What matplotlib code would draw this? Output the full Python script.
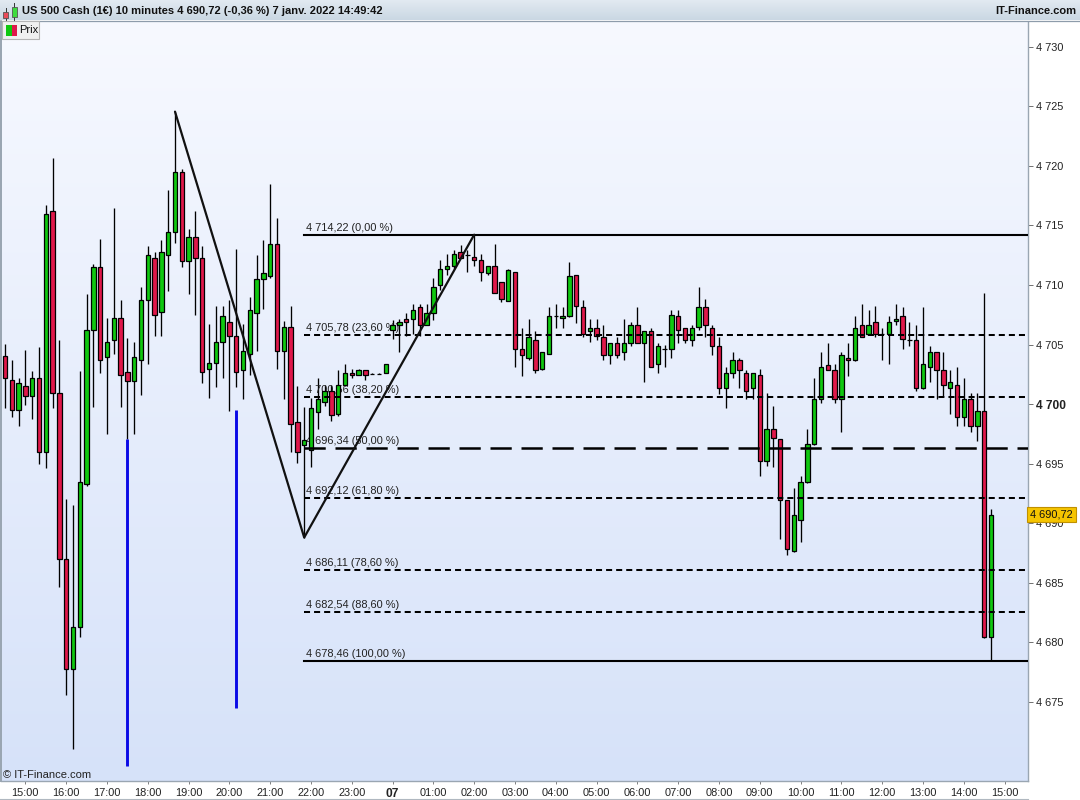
import matplotlib
matplotlib.use("Agg")
import matplotlib.pyplot as plt
import numpy as np
from matplotlib.colors import LinearSegmentedColormap
from matplotlib.patches import Rectangle
from matplotlib.transforms import blended_transform_factory, offset_copy

plt.rcParams['font.family'] = ['Liberation Sans', 'DejaVu Sans']

# ---------------- data (10-minute candles, 6 Jan 14:30 -> 7 Jan 14:40) ----------------
opens = [4704.07, 4702.00, 4699.49, 4701.48, 4700.72, 4702.23, 4695.94, 4716.23, 4700.97, 4686.97,
         4677.75, 4681.27, 4693.26, 4706.25, 4711.53, 4703.99, 4705.42, 4707.26, 4702.73, 4701.98,
         4703.66, 4708.77, 4712.29, 4707.76, 4712.54, 4714.47, 4719.50, 4712.04, 4714.05, 4712.29,
         4702.98, 4703.49, 4705.25, 4706.92, 4705.75, 4702.82, 4704.24, 4707.68, 4710.53, 4710.78,
         4713.46, 4704.49, 4706.51, 4698.53, 4696.56, 4696.14, 4699.36, 4700.16, 4701.12, 4699.13,
         4701.64, 4702.65, 4702.40, 4702.90, 4702.53, 4702.53, 4702.65, 4706.25, 4706.67, 4707.18,
         4707.18, 4708.18, 4706.67, 4707.68, 4710.03, 4711.37, 4711.62, 4712.79, 4712.51, 4712.37,
         4712.12, 4711.03, 4711.62, 4710.28, 4708.68, 4711.12, 4704.66, 4703.91, 4705.42, 4702.98,
         4704.24, 4707.43, 4707.26, 4707.43, 4710.86, 4708.18, 4706.17, 4706.42, 4705.67, 4704.16,
         4705.16, 4704.41, 4705.16, 4706.67, 4705.16, 4706.17, 4703.40, 4704.66, 4704.66, 4707.43,
         4706.42, 4705.42, 4706.51, 4708.18, 4706.42, 4704.91, 4701.39, 4702.65, 4703.66, 4702.65,
         4701.31, 4702.40, 4695.19, 4697.87, 4697.03, 4691.92, 4687.65, 4690.24, 4693.43, 4696.61,
         4700.39, 4703.24, 4702.90, 4700.39, 4703.91, 4703.66, 4706.67, 4705.92, 4706.92, 4705.92,
         4705.92, 4707.01, 4707.43, 4705.42, 4705.42, 4701.39, 4703.15, 4704.41, 4702.90, 4701.39,
         4701.64, 4698.88, 4700.39, 4698.12, 4699.38, 4680.44]
highs = [4705.02, 4703.74, 4702.23, 4704.52, 4702.76, 4704.77, 4716.73, 4720.67, 4705.36, 4692.00,
         4691.53, 4702.76, 4709.27, 4711.79, 4713.82, 4707.26, 4716.48, 4708.77, 4705.52, 4705.25,
         4709.80, 4713.29, 4712.79, 4713.80, 4717.99, 4724.55, 4719.75, 4714.72, 4716.23, 4713.29,
         4706.70, 4708.21, 4708.21, 4708.71, 4712.98, 4706.76, 4708.96, 4712.54, 4713.74, 4718.49,
         4715.64, 4707.01, 4708.27, 4701.48, 4699.77, 4700.47, 4702.15, 4701.64, 4701.64, 4702.84,
         4703.40, 4702.93, 4702.93, 4702.90, 4702.60, 4702.60, 4703.40, 4707.03, 4707.18, 4707.68,
         4708.43, 4708.43, 4708.43, 4710.61, 4712.12, 4712.62, 4712.90, 4713.32, 4712.90, 4714.22,
         4712.62, 4711.62, 4713.40, 4710.28, 4711.37, 4711.12, 4706.42, 4707.18, 4706.17, 4704.41,
         4708.18, 4708.43, 4708.18, 4711.90, 4710.86, 4708.77, 4707.18, 4707.18, 4706.67, 4705.16,
         4705.67, 4707.18, 4706.92, 4708.18, 4706.17, 4706.42, 4705.16, 4705.00, 4707.93, 4707.93,
         4706.42, 4706.67, 4709.86, 4708.85, 4706.67, 4705.67, 4703.15, 4704.41, 4703.91, 4702.90,
         4702.65, 4702.98, 4700.89, 4699.88, 4697.03, 4691.92, 4692.93, 4693.93, 4697.87, 4702.15,
         4704.41, 4705.16, 4703.40, 4704.41, 4705.16, 4707.43, 4708.43, 4707.93, 4708.27, 4706.42,
         4707.43, 4708.43, 4708.18, 4706.92, 4706.67, 4708.18, 4704.91, 4704.41, 4704.41, 4702.90,
         4703.15, 4702.15, 4700.89, 4700.89, 4709.35, 4691.17]
lows = [4699.68, 4698.93, 4698.17, 4699.91, 4698.71, 4694.94, 4694.65, 4699.68, 4684.68, 4675.54,
        4671.05, 4680.49, 4693.12, 4699.77, 4702.62, 4697.50, 4704.24, 4699.77, 4697.03, 4697.50,
        4700.77, 4703.37, 4705.72, 4705.72, 4709.52, 4713.55, 4711.50, 4709.24, 4707.48, 4701.73,
        4700.52, 4701.44, 4702.20, 4699.46, 4701.44, 4700.44, 4702.48, 4704.46, 4707.98, 4710.60,
        4702.98, 4700.44, 4695.99, 4695.02, 4688.80, 4694.69, 4697.87, 4699.82, 4698.59, 4699.00,
        4701.50, 4702.15, 4702.40, 4702.00, 4702.50, 4702.50, 4702.65, 4705.44, 4704.41, 4705.75,
        4705.92, 4705.75, 4706.60, 4707.03, 4709.61, 4710.86, 4711.37, 4712.29, 4711.08, 4711.62,
        4710.36, 4710.86, 4709.35, 4708.57, 4708.68, 4703.12, 4702.36, 4703.74, 4702.65, 4702.90,
        4704.24, 4706.42, 4706.42, 4707.30, 4706.84, 4705.67, 4705.25, 4705.42, 4703.66, 4703.40,
        4703.91, 4703.66, 4704.91, 4705.16, 4701.89, 4703.15, 4702.65, 4703.15, 4703.91, 4705.16,
        4705.16, 4704.91, 4706.25, 4705.67, 4704.16, 4700.81, 4699.63, 4702.15, 4701.31, 4700.39,
        4700.39, 4693.93, 4694.77, 4694.69, 4688.65, 4687.31, 4687.60, 4688.40, 4693.40, 4696.60,
        4700.13, 4702.90, 4700.13, 4697.62, 4702.36, 4703.60, 4705.60, 4705.90, 4705.67, 4703.66,
        4703.40, 4706.67, 4704.66, 4704.91, 4701.14, 4701.30, 4701.89, 4700.39, 4700.64, 4699.13,
        4698.12, 4698.12, 4697.62, 4696.87, 4680.40, 4678.46]
closes = [4702.20, 4699.49, 4701.73, 4700.72, 4702.23, 4695.94, 4715.98, 4700.97, 4686.97, 4677.75,
          4681.27, 4693.48, 4706.25, 4711.53, 4703.74, 4705.25, 4707.26, 4702.48, 4701.98, 4703.99,
          4708.77, 4712.54, 4707.51, 4712.79, 4714.47, 4719.50, 4712.04, 4714.05, 4712.29, 4702.73,
          4703.49, 4705.25, 4707.43, 4705.75, 4702.73, 4704.49, 4707.93, 4710.53, 4711.03, 4713.46,
          4704.49, 4706.51, 4698.32, 4695.99, 4696.97, 4699.63, 4700.39, 4701.12, 4699.07, 4701.64,
          4702.65, 4702.45, 4702.82, 4702.40, 4702.53, 4702.53, 4703.40, 4706.67, 4706.92, 4706.92,
          4707.93, 4706.67, 4707.68, 4709.86, 4711.37, 4711.62, 4712.62, 4712.29, 4712.51, 4712.12,
          4711.12, 4711.62, 4709.35, 4708.85, 4711.28, 4704.66, 4704.16, 4705.67, 4702.90, 4704.41,
          4707.43, 4707.43, 4707.43, 4710.78, 4708.27, 4705.92, 4706.42, 4705.75, 4704.16, 4705.16,
          4704.16, 4705.16, 4706.67, 4705.16, 4706.17, 4703.15, 4704.91, 4704.66, 4707.51, 4706.25,
          4705.42, 4706.42, 4708.18, 4706.67, 4704.91, 4701.31, 4702.65, 4703.66, 4702.90, 4701.14,
          4702.65, 4695.19, 4697.87, 4697.12, 4691.92, 4687.81, 4690.66, 4693.43, 4696.61, 4700.39,
          4703.15, 4702.90, 4700.39, 4704.16, 4703.66, 4706.42, 4705.67, 4706.67, 4705.92, 4705.92,
          4706.92, 4707.18, 4705.50, 4705.42, 4701.39, 4703.40, 4704.41, 4702.90, 4701.64, 4701.89,
          4698.88, 4700.39, 4698.12, 4699.38, 4680.44, 4690.72]

# blue vertical marks (candle index, bottom, top)
blue_idx = [18, 34]
blue_low = [4669.65, 4674.53]
blue_high = [4697.03, 4699.49]

# zigzag drawing (candle index, price)
zig_idx = [25, 44, 69]
zig_price = [4724.55, 4688.80, 4714.22]

# Fibonacci retracement
fib_start = 44
fib_levels = [4714.22, 4705.78, 4700.56, 4696.34, 4692.12, 4686.11, 4682.54, 4678.46]
fib_labels = ["4 714,22 (0,00 %)", "4 705,78 (23,60 %)", "4 700,56 (38,20 %)", "4 696,34 (50,00 %)",
              "4 692,12 (61,80 %)", "4 686,11 (78,60 %)", "4 682,54 (88,60 %)", "4 678,46 (100,00 %)"]
fib_styles = ["solid", "short", "short", "long", "short", "short", "short", "solid"]

y_ticks = [4675, 4680, 4685, 4690, 4695, 4700, 4705, 4710, 4715, 4720, 4725, 4730]
x_tick_idx = [3 + 6 * k for k in range(25)]
x_tick_labels = ["15:00", "16:00", "17:00", "18:00", "19:00", "20:00", "21:00", "22:00", "23:00", "07",
                 "01:00", "02:00", "03:00", "04:00", "05:00", "06:00", "07:00", "08:00", "09:00", "10:00",
                 "11:00", "12:00", "13:00", "14:00", "15:00"]
last_price = 4690.72
title = "US 500 Cash (1€) 10 minutes 4 690,72 (-0,36 %) 7 janv. 2022 14:49:42"

# ---------------- figure ----------------
W, H = 1080, 800
fig = plt.figure(figsize=(W / 100, H / 100), dpi=100)
fig.patch.set_facecolor('white')

px_left, px_right, px_top, px_bottom = 1.0, 1027.5, 21.5, 781.0
ax = fig.add_axes([px_left / W, 1 - px_bottom / H, (px_right - px_left) / W, (px_bottom - px_top) / H])

x0, dx = 5.0, 6.8  # pixel of candle 0 and pixel spacing
xmin = (px_left - x0) / dx
xmax = (px_right - x0) / dx
ymax = 4730 + (46.7 - px_top) / 11.913
ymin = 4730 - (px_bottom - 46.7) / 11.913
ax.set_xlim(xmin, xmax)
ax.set_ylim(ymin, ymax)

# background gradient
cmap_bg = LinearSegmentedColormap.from_list('bg', ['#f7f9ff', '#d6e2f9'])
ax.imshow(np.linspace(0, 1, 256).reshape(-1, 1), cmap=cmap_bg, aspect='auto',
          extent=[xmin, xmax, ymin, ymax], origin='upper', zorder=0, interpolation='bilinear')

o = np.array(opens); h = np.array(highs); l = np.array(lows); c = np.array(closes)
n = len(o)
x = np.arange(n)
green, red = '#10c810', '#e0184a'
cols = [green if cc >= oo else red for oo, cc in zip(o, c)]
bottoms = np.minimum(o, c)
heights = np.abs(c - o)

# wicks
ax.vlines(x, l, h, color='black', lw=0.95, zorder=2)
# bodies
ax.bar(x, heights, bottom=bottoms, width=0.66, color=cols, edgecolor='black', linewidth=0.9, zorder=3)

# blue marks
ax.vlines(blue_idx, blue_low, blue_high, color='#0a0ae6', lw=2.1, zorder=3)

# zigzag
ax.plot(zig_idx, zig_price, color='#111111', lw=1.6, zorder=5, solid_capstyle='round')

# Fibonacci levels
txt_tr = offset_copy(ax.transData, fig=fig, x=0, y=2.0, units='dots')
for lvl, lab, sty in zip(fib_levels, fib_labels, fib_styles):
    if sty == 'solid':
        ax.plot([fib_start, xmax], [lvl, lvl], color='black', lw=1.5, zorder=4)
    elif sty == 'short':
        ln, = ax.plot([fib_start, xmax], [lvl, lvl], color='black', lw=1.45, zorder=4)
        ln.set_dashes([3.0, 2.0])
    else:
        ln, = ax.plot([fib_start, xmax], [lvl, lvl], color='black', lw=1.8, zorder=4)
        ln.set_dashes([8.5, 3.9])
    ax.text(fib_start + 0.25, lvl, lab, transform=txt_tr, fontsize=7.9, color='#222222',
            ha='left', va='bottom', zorder=2.5)

# axes styling
ax.spines['top'].set_visible(False)
ax.spines['left'].set_color('#9aa6b2')
ax.spines['left'].set_linewidth(1.4)
ax.spines['right'].set_color('#9aa6b2')
ax.spines['right'].set_linewidth(1.0)
ax.spines['bottom'].set_color('#9aa6b2')
ax.spines['bottom'].set_linewidth(1.0)

ax.yaxis.tick_right()
ax.set_yticks(y_ticks)
ax.set_yticklabels([f"{v:,}".replace(",", " ") for v in y_ticks])
ax.tick_params(axis='y', which='both', length=3.6, width=0.7, color='#707070', pad=2.8,
               labelsize=7.9, labelcolor='#222222', left=False)
for t in ax.get_yticklabels():
    if t.get_text() == "4 700":
        t.set_fontweight('bold')
        t.set_fontsize(8.6)

ax.set_xticks(x_tick_idx)
ax.set_xticklabels(x_tick_labels)
ax.tick_params(axis='x', length=2.5, width=0.7, color='#808080', pad=2.5,
               labelsize=7.9, labelcolor='#222222')
for t in ax.get_xticklabels():
    if t.get_text() == "07":
        t.set_fontweight('bold')
        t.set_fontsize(8.6)

# last price tag
btr = blended_transform_factory(ax.transAxes, ax.transData)
ax.text(1.0025, last_price, "4 690,72", transform=btr, fontsize=7.9, color='#111111',
        ha='left', va='center', zorder=20, clip_on=False,
        bbox=dict(boxstyle='square,pad=0.26', facecolor='#f5c400', edgecolor='#c09000', linewidth=0.8))

# ---------------- overlay in pixel coords ----------------
ov = fig.add_axes([0, 0, 1, 1], zorder=10)
ov.set_xlim(0, W)
ov.set_ylim(H, 0)
ov.axis('off')
ov.patch.set_visible(False)

# header bar
cmap_h = LinearSegmentedColormap.from_list('hd', ['#e3ebf2', '#cad7e3'])
ov.imshow(np.linspace(0, 1, 64).reshape(-1, 1), cmap=cmap_h, aspect='auto',
          extent=[0, W, 20.5, 0], origin='upper', zorder=1)
ov.plot([0, W], [20.8, 20.8], color='#8e9cab', lw=0.9, zorder=2)
ov.text(22.5, 11, title, fontsize=8.0, fontweight='bold', color='#111111', ha='left', va='center', zorder=3)
ov.text(1076, 11, "IT-Finance.com", fontsize=8.0, fontweight='bold', color='#111111',
        ha='right', va='center', zorder=3)
# header icon: little candles
ov.plot([5.5, 5.5], [8, 20], color='#333333', lw=0.7, zorder=3)
ov.add_patch(Rectangle((3.2, 11.5), 4.8, 6, facecolor='#e84b5a', edgecolor='#555555', lw=0.6, zorder=4))
ov.plot([14, 14], [3, 20], color='#333333', lw=0.7, zorder=3)
ov.add_patch(Rectangle((11.5, 7), 5, 9.5, facecolor='#3fdc3f', edgecolor='#555555', lw=0.6, zorder=4))

# "Prix" legend box
ov.add_patch(Rectangle((2, 21), 37, 17.5, facecolor='#f0f0f0', edgecolor='#b4b4b4', lw=0.8, zorder=3))
ov.add_patch(Rectangle((6, 24.5), 5.5, 11, facecolor='#10c810', edgecolor='none', zorder=4))
ov.add_patch(Rectangle((11.5, 24.5), 5.5, 11, facecolor='#e0184a', edgecolor='none', zorder=4))
ov.text(19, 30, "Prix", fontsize=8.0, color='#111111', ha='left', va='center', zorder=4)

# watermark
ov.text(3, 775, "© IT-Finance.com", fontsize=8.0, color='#222222', ha='left', va='center', zorder=4)

# outer frame lines
ov.plot([0.5, 0.5], [21, 781], color='#9aa6b2', lw=1.2, zorder=2)
ov.plot([0, 1027.5], [799.3, 799.3], color='#b0b8c0', lw=0.8, zorder=2)

fig.savefig("out.png", dpi=100, facecolor='white')
